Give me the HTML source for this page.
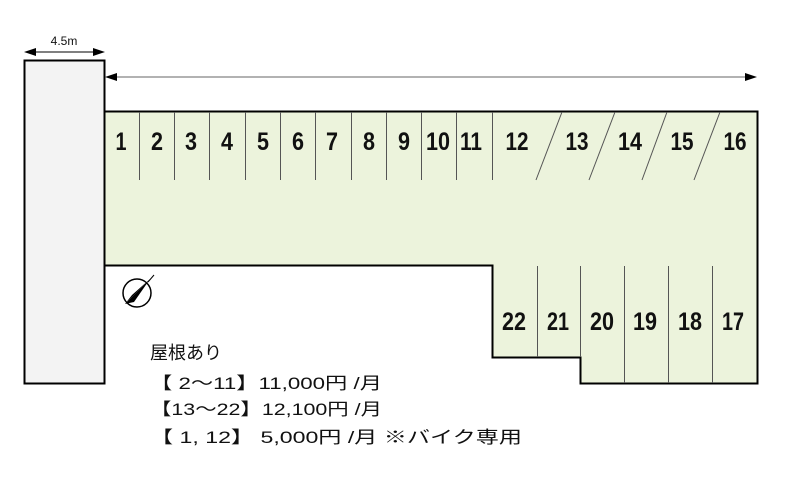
<!DOCTYPE html>
<html><head><meta charset="utf-8"><style>
body{margin:0;background:#fff;}
svg{display:block}
.n{font-family:"Liberation Sans",sans-serif;font-weight:bold;font-size:25px;fill:#111;text-anchor:middle}
.t{font-family:"Liberation Sans","Noto Sans CJK JP",sans-serif;font-size:17px;fill:#111}
</style></head><body>
<svg width="785" height="486" viewBox="0 0 785 486">
<rect x="24.5" y="60.5" width="80" height="323" fill="#f3f3f3" stroke="#000" stroke-width="2"/>
<line x1="30" y1="52" x2="99" y2="52" stroke="#000" stroke-width="1"/>
<polygon points="24,52 36,48 36,56" fill="#000"/>
<polygon points="105,52 93,48 93,56" fill="#000"/>
<text x="64" y="45" text-anchor="middle" style="font-family:'Liberation Sans',sans-serif;font-size:12px;fill:#111">4.5m</text>
<line x1="112" y1="77" x2="750" y2="77" stroke="#666" stroke-width="1"/>
<polygon points="105,77 117,73 117,81" fill="#000"/>
<polygon points="757,77 745,73 745,81" fill="#000"/>
<polygon points="104.5,111.5 757.5,111.5 757.5,383.5 580.5,383.5 580.5,357.5 492.5,357.5 492.5,265.5 104.5,265.5" fill="#ecf3dc" stroke="#000" stroke-width="2"/>
<g stroke="#555" stroke-width="1">
<line x1="139.5" y1="112" x2="139.5" y2="180"/><line x1="174.5" y1="112" x2="174.5" y2="180"/>
<line x1="209.5" y1="112" x2="209.5" y2="180"/><line x1="245.5" y1="112" x2="245.5" y2="180"/>
<line x1="280.5" y1="112" x2="280.5" y2="180"/><line x1="315.5" y1="112" x2="315.5" y2="180"/>
<line x1="351.5" y1="112" x2="351.5" y2="180"/><line x1="386.5" y1="112" x2="386.5" y2="180"/>
<line x1="421.5" y1="112" x2="421.5" y2="180"/><line x1="456.5" y1="112" x2="456.5" y2="180"/>
<line x1="492.5" y1="112" x2="492.5" y2="180"/>
<line x1="562" y1="112" x2="536" y2="180"/><line x1="615" y1="112" x2="589" y2="180"/>
<line x1="667" y1="112" x2="642" y2="180"/><line x1="720" y1="112" x2="694" y2="180"/>
<line x1="537.5" y1="266" x2="537.5" y2="357"/><line x1="624.5" y1="266" x2="624.5" y2="383"/>
<line x1="668.5" y1="266" x2="668.5" y2="383"/><line x1="712.5" y1="266" x2="712.5" y2="383"/>
<line x1="580.5" y1="266" x2="580.5" y2="357"/>
</g>
<g class="n">
<text x="121" y="150" textLength="11" lengthAdjust="spacingAndGlyphs">1</text><text x="157" y="150" textLength="12" lengthAdjust="spacingAndGlyphs">2</text><text x="191" y="150" textLength="12" lengthAdjust="spacingAndGlyphs">3</text>
<text x="227" y="150" textLength="12" lengthAdjust="spacingAndGlyphs">4</text><text x="263" y="150" textLength="12" lengthAdjust="spacingAndGlyphs">5</text><text x="298" y="150" textLength="12" lengthAdjust="spacingAndGlyphs">6</text>
<text x="332" y="150" textLength="12" lengthAdjust="spacingAndGlyphs">7</text><text x="369" y="150" textLength="12" lengthAdjust="spacingAndGlyphs">8</text><text x="404" y="150" textLength="12" lengthAdjust="spacingAndGlyphs">9</text>
<text x="438" y="150" textLength="24" lengthAdjust="spacingAndGlyphs">10</text><text x="471" y="150" textLength="22" lengthAdjust="spacingAndGlyphs">11</text><text x="517" y="150" textLength="23" lengthAdjust="spacingAndGlyphs">12</text>
<text x="577" y="150" textLength="23" lengthAdjust="spacingAndGlyphs">13</text><text x="630" y="150" textLength="24" lengthAdjust="spacingAndGlyphs">14</text><text x="682" y="150" textLength="23" lengthAdjust="spacingAndGlyphs">15</text>
<text x="735" y="150" textLength="23" lengthAdjust="spacingAndGlyphs">16</text>
<text x="514" y="330" textLength="24" lengthAdjust="spacingAndGlyphs">22</text><text x="558" y="330" textLength="22" lengthAdjust="spacingAndGlyphs">21</text><text x="602" y="330" textLength="24" lengthAdjust="spacingAndGlyphs">20</text>
<text x="645" y="330" textLength="24" lengthAdjust="spacingAndGlyphs">19</text><text x="690" y="330" textLength="24" lengthAdjust="spacingAndGlyphs">18</text><text x="733" y="330" textLength="22" lengthAdjust="spacingAndGlyphs">17</text>
</g>
<circle cx="137" cy="293" r="14" fill="#fff" stroke="#000" stroke-width="1.5"/>
<polygon points="125,304 132,295 150,279" fill="#000"/>
<polygon points="125,304 134,302 150,279" fill="#000"/>
<line x1="148" y1="282" x2="154" y2="275" stroke="#000" stroke-width="1"/>
<text class="t" x="150" y="359" style="font-size:18px">屋根あり</text>
<text class="t" x="150" y="389" textLength="232" lengthAdjust="spacingAndGlyphs">【 2～11】11,000円 /月</text>
<text class="t" x="150" y="415" textLength="232" lengthAdjust="spacingAndGlyphs">【13～22】12,100円 /月</text>
<text class="t" x="150" y="443" textLength="372" lengthAdjust="spacingAndGlyphs">【 1, 12】 5,000円 /月 ※バイク専用</text>
</svg>
</body></html>
